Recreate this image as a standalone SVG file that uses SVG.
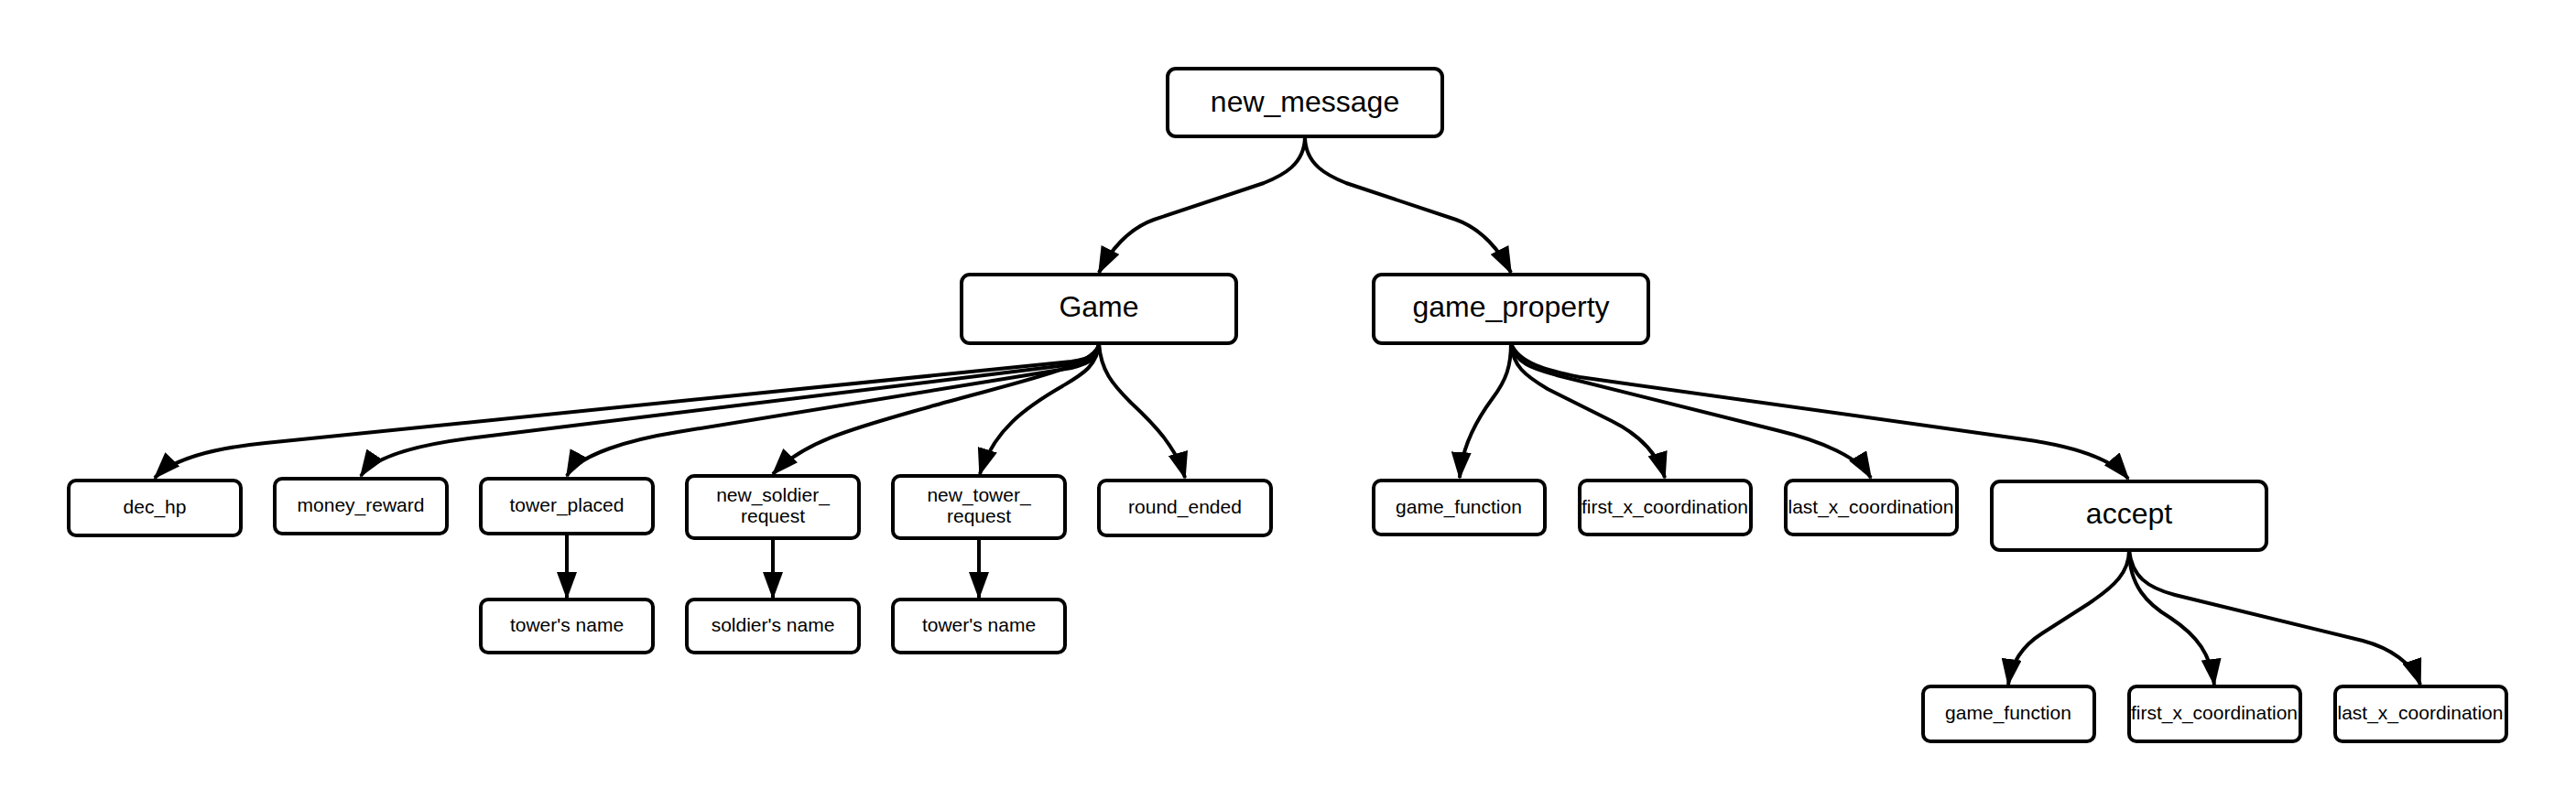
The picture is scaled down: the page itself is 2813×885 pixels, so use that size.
<svg xmlns="http://www.w3.org/2000/svg" width="2813" height="885" viewBox="0 0 2813 885">
<style>
.box{fill:#fff;stroke:#000;stroke-width:4}
.big{font-family:"Liberation Sans",Arial,sans-serif;font-size:32px;text-anchor:middle;fill:#000}
.sm{font-family:"Liberation Sans",Arial,sans-serif;font-size:21px;text-anchor:middle;fill:#000}
.edge{fill:none;stroke:#000;stroke-width:4}
</style>
<defs>
<marker id="ah" markerUnits="userSpaceOnUse" viewBox="0 0 30 22" markerWidth="30" markerHeight="22" refX="28" refY="11" orient="auto">
<path d="M0,0 L30,11 L0,22 Z" fill="#000"/>
</marker>
</defs>
<rect width="2813" height="885" fill="#fff"/>
<g id="connectors" class="edges">
<path class="edge" marker-end="url(#ah)" d="M1425,149 C1425,180 1400,192 1380,200 L1260,240 C1232,250 1212,274 1200,298"/>
<path class="edge" marker-end="url(#ah)" d="M1425,149 C1425,180 1450,192 1470,200 L1590,240 C1618,250 1638,274 1650,298"/>
<path class="edge" marker-end="url(#ah)" d="M1200,375 C1200,388 1190,392 1170,395 L290,484 C240,489 190,500 169,522"/>
<path class="edge" marker-end="url(#ah)" d="M1200,375 C1200,390 1190,395 1172,398 L520,478 C470,484 410,496 394,520"/>
<path class="edge" marker-end="url(#ah)" d="M1200,375 C1200,392 1190,397 1170,402 L740,472 C690,480 632,496 619,520"/>
<path class="edge" marker-end="url(#ah)" d="M1200,375 C1198,400 1120,415 1020,443 C940,466 880,480 844,518"/>
<path class="edge" marker-end="url(#ah)" d="M1200,375 C1199,400 1180,410 1160,422 C1120,445 1085,470 1070,518"/>
<path class="edge" marker-end="url(#ah)" d="M1200,375 C1202,405 1215,420 1235,440 C1262,465 1285,490 1294,522"/>
<path class="edge" marker-end="url(#ah)" d="M619,583 L619,653"/>
<path class="edge" marker-end="url(#ah)" d="M844,588 L844,653"/>
<path class="edge" marker-end="url(#ah)" d="M1069,588 L1069,653"/>
<path class="edge" marker-end="url(#ah)" d="M1650,375 C1650,400 1645,415 1630,435 C1610,462 1596,490 1594,522"/>
<path class="edge" marker-end="url(#ah)" d="M1650,375 C1652,400 1665,410 1690,425 L1760,460 C1790,475 1810,495 1818,522"/>
<path class="edge" marker-end="url(#ah)" d="M1650,375 C1655,398 1675,403 1700,410 L1940,470 C1990,482 2030,500 2043,522"/>
<path class="edge" marker-end="url(#ah)" d="M1650,375 C1658,397 1690,405 1725,412 L2210,480 C2260,487 2305,500 2324,523"/>
<path class="edge" marker-end="url(#ah)" d="M2325,601 C2325,625 2310,640 2280,660 L2230,692 C2208,706 2196,725 2193,748"/>
<path class="edge" marker-end="url(#ah)" d="M2325,601 C2325,640 2345,660 2370,675 C2400,695 2414,715 2418,748"/>
<path class="edge" marker-end="url(#ah)" d="M2325,601 C2328,630 2345,642 2375,650 L2580,700 C2610,708 2635,725 2643,748"/>
</g>
<g id="new_message"><rect class="box" x="1275" y="75" width="300" height="74" rx="9"/><text class="big" x="1425" y="122">new_message</text></g>
<g id="game"><rect class="box" x="1050" y="300" width="300" height="75" rx="9"/><text class="big" x="1200" y="346">Game</text></g>
<g id="game_property"><rect class="box" x="1500" y="300" width="300" height="75" rx="9"/><text class="big" x="1650" y="346">game_property</text></g>
<g id="accept"><rect class="box" x="2175" y="526" width="300" height="75" rx="9"/><text class="big" x="2325" y="572">accept</text></g>
<g id="dec_hp"><rect class="box" x="75" y="525" width="188" height="60" rx="8"/><text class="sm" x="169" y="561">dec_hp</text></g>
<g id="money_reward"><rect class="box" x="300" y="523" width="188" height="60" rx="8"/><text class="sm" x="394" y="559">money_reward</text></g>
<g id="tower_placed"><rect class="box" x="525" y="523" width="188" height="60" rx="8"/><text class="sm" x="619" y="559">tower_placed</text></g>
<g id="new_soldier_request"><rect class="box" x="750" y="520" width="188" height="68" rx="8"/><text class="sm" x="844" y="548">new_soldier_</text><text class="sm" x="844" y="571">request</text></g>
<g id="new_tower_request"><rect class="box" x="975" y="520" width="188" height="68" rx="8"/><text class="sm" x="1069" y="548">new_tower_</text><text class="sm" x="1069" y="571">request</text></g>
<g id="round_ended"><rect class="box" x="1200" y="525" width="188" height="60" rx="8"/><text class="sm" x="1294" y="561">round_ended</text></g>
<g id="towers_name_1"><rect class="box" x="525" y="655" width="188" height="58" rx="8"/><text class="sm" x="619" y="690">tower's name</text></g>
<g id="soldiers_name"><rect class="box" x="750" y="655" width="188" height="58" rx="8"/><text class="sm" x="844" y="690">soldier's name</text></g>
<g id="towers_name_2"><rect class="box" x="975" y="655" width="188" height="58" rx="8"/><text class="sm" x="1069" y="690">tower's name</text></g>
<g id="gp_game_function"><rect class="box" x="1500" y="525" width="187" height="59" rx="8"/><text class="sm" x="1593" y="561">game_function</text></g>
<g id="gp_first_x_coordination"><rect class="box" x="1725" y="525" width="187" height="59" rx="8"/><text class="sm" x="1818" y="561">first_x_coordination</text></g>
<g id="gp_last_x_coordination"><rect class="box" x="1950" y="525" width="187" height="59" rx="8"/><text class="sm" x="2043" y="561">last_x_coordination</text></g>
<g id="ac_game_function"><rect class="box" x="2100" y="750" width="187" height="60" rx="8"/><text class="sm" x="2193" y="786">game_function</text></g>
<g id="ac_first_x_coordination"><rect class="box" x="2325" y="750" width="187" height="60" rx="8"/><text class="sm" x="2418" y="786">first_x_coordination</text></g>
<g id="ac_last_x_coordination"><rect class="box" x="2550" y="750" width="187" height="60" rx="8"/><text class="sm" x="2643" y="786">last_x_coordination</text></g>
</svg>
